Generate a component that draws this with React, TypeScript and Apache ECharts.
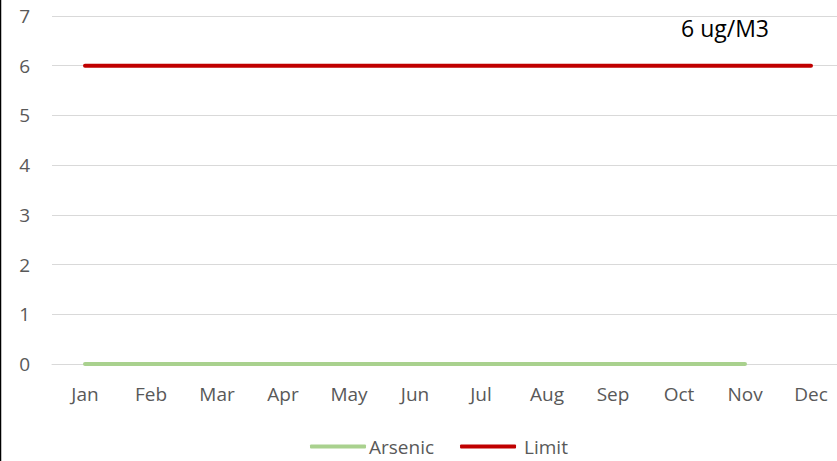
import React, { useEffect, useRef } from "react";
import * as echarts from "echarts";

const months = ["Jan", "Feb", "Mar", "Apr", "May", "Jun", "Jul", "Aug", "Sep", "Oct", "Nov", "Dec"];
const arsenic: (number | null)[] = [0, 0, 0, 0, 0, 0, 0, 0, 0, 0, 0, null];
const limit = [6, 6, 6, 6, 6, 6, 6, 6, 6, 6, 6, 6];
const limitLabel = "6 ug/M3";

export default function App() {
  const ref = useRef<HTMLDivElement>(null);
  useEffect(() => {
    if (!ref.current) return;
    const chart = echarts.init(ref.current, null, { renderer: "svg" });
    const font = "'Open Sans', sans-serif";
    chart.setOption({
      animation: false,
      grid: { left: 52, right: 6, top: 16, bottom: 97, containLabel: false },
      xAxis: {
        type: "category",
        data: months,
        boundaryGap: true,
        axisLine: { show: true, lineStyle: { color: "#d9d9d9", width: 1 } },
        axisTick: { show: false },
        axisLabel: { color: "#595959", fontSize: 19, fontFamily: font, margin: 20 },
        splitLine: { show: false },
      },
      yAxis: {
        type: "value",
        min: 0,
        max: 7,
        interval: 1,
        axisLine: { show: false },
        axisTick: { show: false },
        axisLabel: { color: "#595959", fontSize: 19, fontFamily: font, margin: 22 },
        splitLine: { lineStyle: { color: "#d9d9d9", width: 1 } },
      },
      legend: {
        bottom: 0,
        left: 305,
        itemWidth: 56,
        itemHeight: 4,
        itemGap: 26,
        icon: "roundRect",
        textStyle: { color: "#595959", fontSize: 19, fontFamily: font },
        data: [
          { name: "Arsenic", textStyle: { padding: [0, 0, 0, -2] } },
          { name: "Limit", textStyle: { padding: [0, 0, 0, 3] } },
        ],
      },
      series: [
        {
          name: "Arsenic",
          type: "line",
          data: arsenic,
          symbol: "none",
          lineStyle: { color: "#A9D18E", width: 4, cap: "round" },
          itemStyle: { color: "#A9D18E" },
        },
        {
          name: "Limit",
          type: "line",
          data: limit,
          symbol: "none",
          lineStyle: { color: "#C00000", width: 4, cap: "round" },
          itemStyle: { color: "#C00000" },
        },
      ],
      graphic: [
        {
          type: "line",
          shape: { x1: 0.5, y1: 0, x2: 0.5, y2: 461 },
          style: { stroke: "#000", lineWidth: 1.5 },
        },
        {
          type: "text",
          left: 681,
          top: 16,
          style: { text: limitLabel, fill: "#000", fontSize: 23, fontFamily: font },
        },
      ],
    });
    return () => chart.dispose();
  }, []);
  return (
    <div style={{ position: "fixed", left: 0, top: 0, width: 837, height: 461, overflow: "hidden", background: "#fff" }}>
      <div ref={ref} style={{ width: 850, height: 461 }} />
    </div>
  );
}
